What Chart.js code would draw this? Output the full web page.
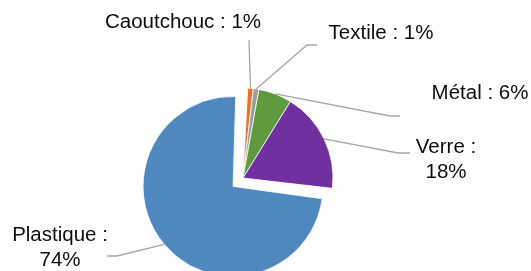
<!DOCTYPE html>
<html>
<head>
<meta charset="utf-8">
<script src="https://cdn.jsdelivr.net/npm/chart.js@4.4.1/dist/chart.umd.min.js"></script>
<style>
  html, body { margin: 0; padding: 0; background: #fff; overflow: hidden; }
  #wrap { width: 531px; height: 271px; position: relative; }
</style>
</head>
<body>
<div id="wrap"><canvas id="myChart"></canvas></div>
<script>
let categories = ['Caoutchouc', 'Textile', 'Métal', 'Verre', 'Plastique'];
let shares = [1, 1, 6, 18, 74];
let colors = ['#E2732D', '#9C9C9C', '#5F9B3E', '#7030A0', '#4F88BE'];

// where each label sits and the elbow of its leader line
let labelPos = [
    { x: 183, y: 22, wrap: false, path: [[249, 40]] },
    { x: 381, y: 33, wrap: false, path: [[307, 45], [317, 45]] },
    { x: 480, y: 93, wrap: false, path: [[390, 116], [400, 116]] },
    { x: 446, y: 160, wrap: true, path: [[398, 153], [410, 153]] },
    { x: 60, y: 248, wrap: true, path: [[117, 256], [107, 256]] },
];

const SHIFT = 13; // pixels the Plastique slice is pulled out

const leaders = {
    id: 'leaders',
    afterDatasetUpdate(chart, args) {
        // chart.js grows big exploded slices by offset/4, undo that
        args.meta.data.forEach(arc => {
            let off = (arc.options && arc.options.offset) || 0;
            if (off && arc.circumference >= Math.PI) arc.outerRadius -= off / 4;
        });
    },
    afterDatasetsDraw(chart) {
        let ctx = chart.ctx;
        let meta = chart.getDatasetMeta(0);
        let total = shares.reduce((a, b) => a + b, 0);
        ctx.save();
        meta.data.forEach((arc, i) => {
            let mid = (arc.startAngle + arc.endAngle) / 2;
            let t = (arc.options.offset || 0) / 4;
            let r = arc.outerRadius + (t && arc.circumference >= Math.PI ? t : 0);
            let sx = arc.x + Math.cos(mid) * (t + r);
            let sy = arc.y + Math.sin(mid) * (t + r);
            let lp = labelPos[i];
            ctx.beginPath();
            ctx.moveTo(sx, sy);
            lp.path.forEach(p => ctx.lineTo(p[0], p[1]));
            ctx.strokeStyle = '#A6A6A6';
            ctx.lineWidth = 1.3;
            ctx.stroke();

            let pct = Math.round(shares[i] / total * 100) + '%';
            let lines = lp.wrap ? [categories[i] + ' :', pct] : [categories[i] + ' : ' + pct];
            ctx.fillStyle = '#0d0d0d';
            ctx.font = '20.5px "Liberation Sans", Arial, sans-serif';
            ctx.textAlign = 'center';
            ctx.textBaseline = 'middle';
            let lh = 25;
            let y0 = lp.y - (lines.length - 1) * lh / 2;
            lines.forEach((txt, k) => ctx.fillText(txt, lp.x, y0 + k * lh));
        });
        ctx.restore();
    }
};

let ctx = document.getElementById('myChart').getContext('2d');
let myChart = new Chart(ctx, {
    type: 'pie',
    data: {
        labels: categories,
        datasets: [{
            data: shares,
            backgroundColor: colors,
            borderColor: '#ffffff',
            borderWidth: 0.8,
            offset: [0, 0, 0, 0, SHIFT * 4],
            hoverOffset: 0,
            clip: false,
        }]
    },
    options: {
        responsive: true,
        maintainAspectRatio: false,
        animation: false,
        rotation: 3,
        radius: 90,
        layout: {
            padding: { left: 0, right: 45, top: 85, bottom: 0 }
        },
        plugins: {
            legend: { display: false },
            tooltip: { enabled: false },
        }
    },
    plugins: [leaders]
});
</script>
</body>
</html>
